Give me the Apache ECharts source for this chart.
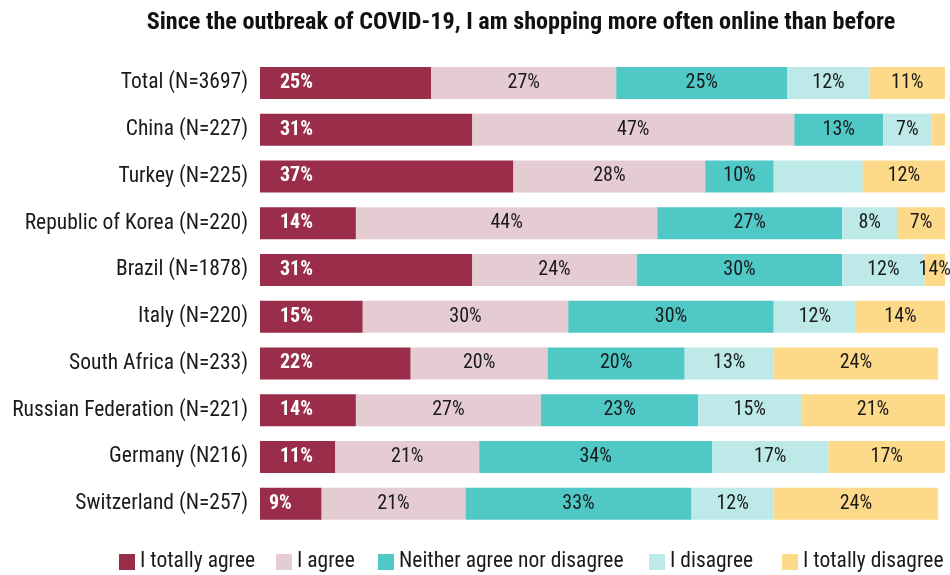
<!DOCTYPE html>
<html>
<head>
<meta charset="utf-8">
<script src="https://cdn.jsdelivr.net/npm/echarts@6/dist/echarts.min.js"></script>
<style>
  html, body { margin: 0; padding: 0; background: #fff; }
  #chart { width: 950px; height: 575px; }
</style>
</head>
<body>
<div id="chart"></div>
<script>
// Survey rows, top to bottom
const categories = [
  'Total (N=3697)', 'China (N=227)', 'Turkey (N=225)', 'Republic of Korea (N=220)',
  'Brazil (N=1878)', 'Italy (N=220)', 'South Africa (N=233)',
  'Russian Federation (N=221)', 'Germany (N216)', 'Switzerland (N=257)'
];

// Answer shares in percent, one value per row
const totallyAgree    = [25, 31, 37, 14, 31, 15, 22, 14, 11, 9];
const agree           = [27, 47, 28, 44, 24, 30, 20, 27, 21, 21];
const neither         = [25, 13, 10, 27, 30, 30, 20, 23, 34, 33];
const disagree        = [12, 7, 13, 8, 12, 12, 13, 15, 17, 12];
const totallyDisagree = [11, 2, 12, 7, 14, 14, 24, 21, 17, 24];

const answerNames = ['I totally agree', 'I agree', 'Neither agree nor disagree', 'I disagree', 'I totally disagree'];

// Segments printed without a value label
const unlabeled = {
  'I disagree': ['Turkey (N=225)'],
  'I totally disagree': ['China (N=227)']
};

const FONT = "'Roboto Condensed', 'Liberation Sans Narrow', 'Arial Narrow', Roboto, sans-serif";
const colors = ['#992d4a', '#e5ccd3', '#50c8c6', '#bdeae8', '#fdd98a'];
const TEXT = '#1a1a1a';

// x position of each legend entry along the bottom row
const legendX = [119, 276, 378, 649, 782];

function seriesData(name, values, leftAligned) {
  const hide = unlabeled[name] || [];
  return values.map((v, i) => {
    if (hide.indexOf(categories[i]) >= 0) return { value: v, label: { show: false } };
    // single-digit shares sit closer to the bar start
    if (leftAligned && v < 10) return { value: v, label: { distance: 9 } };
    return v;
  });
}

const allValues = [totallyAgree, agree, neither, disagree, totallyDisagree];

const series = answerNames.map((name, k) => {
  const first = k === 0;
  return {
    name: name,
    type: 'bar',
    stack: 'share',
    barWidth: 32,
    data: seriesData(name, allValues[k], first),
    itemStyle: { color: colors[k] },
    label: first ? {
      show: true,
      position: 'insideLeft',
      distance: 20,
      formatter: '{c}%',
      color: '#ffffff',
      fontWeight: 'bold',
      fontFamily: FONT,
      fontSize: 20
    } : {
      show: true,
      position: 'inside',
      formatter: '{c}%',
      color: TEXT,
      fontFamily: FONT,
      fontSize: 20
    },
    emphasis: { disabled: true }
  };
});

const legends = answerNames.map((name, k) => ({
  data: [name],
  left: legendX[k],
  top: 551,
  padding: 0,
  icon: 'rect',
  itemWidth: 16,
  itemHeight: 16,
  itemGap: 0,
  selectedMode: false,
  textStyle: { fontFamily: FONT, fontSize: 21.5, color: TEXT }
}));

const chart = echarts.init(document.getElementById('chart'), null, { renderer: 'canvas' });
chart.setOption({
  animation: false,
  backgroundColor: '#ffffff',
  title: {
    text: 'Since the outbreak of COVID-19, I am shopping more often online than before',
    left: 516,
    textAlign: 'center',
    top: 6,
    textStyle: { fontFamily: FONT, fontWeight: 'bold', fontSize: 24.2, color: '#111111' }
  },
  legend: legends,
  grid: { left: 260, right: 5, top: 59.5, bottom: 48, containLabel: false },
  xAxis: {
    type: 'value',
    min: 0,
    max: 100,
    show: false
  },
  yAxis: {
    type: 'category',
    data: categories,
    inverse: true,
    axisLine: { show: false },
    axisTick: { show: false },
    axisLabel: { fontFamily: FONT, fontSize: 21.5, color: TEXT, margin: 12 }
  },
  series: series
});
</script>
</body>
</html>
